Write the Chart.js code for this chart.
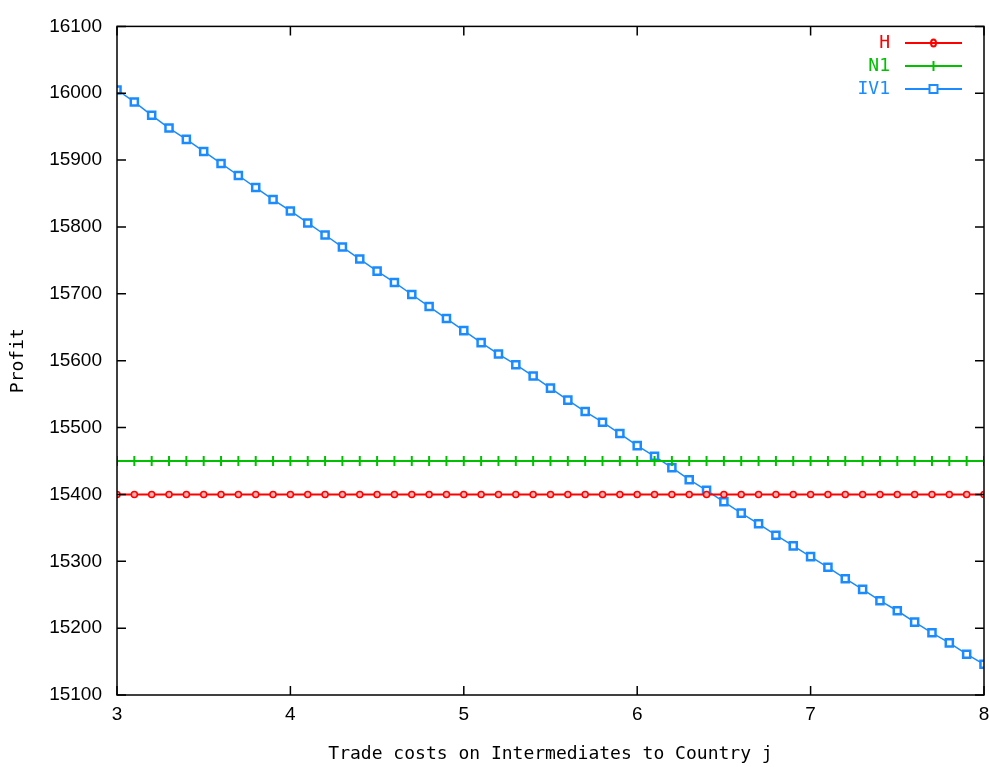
<!DOCTYPE html>
<html>
<head>
<meta charset="utf-8">
<script src="https://cdn.jsdelivr.net/npm/chart.js@4.4.1/dist/chart.umd.min.js"></script>
<style>
html,body{margin:0;padding:0;background:#fff;}
#wrap{width:989px;height:767px;position:relative;}
</style>
</head>
<body>
<div id="wrap"><canvas id="c" width="989" height="767"></canvas></div>
<script>
const tradeCosts = [3.0,3.1,3.2,3.3,3.4,3.5,3.6,3.7,3.8,3.9,4.0,4.1,4.2,4.3,4.4,4.5,4.6,4.7,4.8,4.9,5.0,5.1,5.2,5.3,5.4,5.5,5.6,5.7,5.8,5.9,6.0,6.1,6.2,6.3,6.4,6.5,6.6,6.7,6.8,6.9,7.0,7.1,7.2,7.3,7.4,7.5,7.6,7.7,7.8,7.9,8.0];
const profitH  = [15400,15400,15400,15400,15400,15400,15400,15400,15400,15400,15400,15400,15400,15400,15400,15400,15400,15400,15400,15400,15400,15400,15400,15400,15400,15400,15400,15400,15400,15400,15400,15400,15400,15400,15400,15400,15400,15400,15400,15400,15400,15400,15400,15400,15400,15400,15400,15400,15400,15400,15400];
const profitN1 = [15450,15450,15450,15450,15450,15450,15450,15450,15450,15450,15450,15450,15450,15450,15450,15450,15450,15450,15450,15450,15450,15450,15450,15450,15450,15450,15450,15450,15450,15450,15450,15450,15450,15450,15450,15450,15450,15450,15450,15450,15450,15450,15450,15450,15450,15450,15450,15450,15450,15450,15450];
const profitIV1 = [16005,15987,15967,15948,15931,15913,15895,15877,15859,15841,15824,15806,15788,15770,15752,15734,15717,15699,15681,15663,15645,15627,15610,15594,15577,15559,15541,15524,15508,15491,15473,15457,15440,15422,15406,15389,15372,15356,15339,15323,15307,15291,15274,15258,15241,15226,15209,15193,15178,15161,15146];
const xTicks = [3,4,5,6,7,8];
const yTicks = [15100,15200,15300,15400,15500,15600,15700,15800,15900,16000,16100];
const seriesNames = ['H','N1','IV1'];
const seriesColors = ['#ff0000','#00c000','#1a8cff'];

const mono = '"DejaVu Sans Mono", "Liberation Mono", monospace';
const sans = '"Liberation Sans", Arial, sans-serif';

function pts(ys){ return tradeCosts.map((x,i)=>({x:x,y:ys[i]})); }

const framePlugin = {
  id:'frame',
  afterDatasetsDraw(chart){
    const ctx = chart.ctx, a = chart.chartArea;
    const xs = chart.scales.x, ys = chart.scales.y;
    ctx.save();
    ctx.strokeStyle = '#000';
    ctx.lineWidth = 1.5;
    ctx.strokeRect(a.left, a.top, a.right-a.left, a.bottom-a.top);
    ctx.beginPath();
    const L = 9;
    yTicks.forEach(v=>{
      const y = ys.getPixelForValue(v);
      ctx.moveTo(a.left,y); ctx.lineTo(a.left+L,y);
      ctx.moveTo(a.right,y); ctx.lineTo(a.right-L,y);
    });
    xTicks.forEach(v=>{
      const x = xs.getPixelForValue(v);
      ctx.moveTo(x,a.bottom); ctx.lineTo(x,a.bottom-L);
      ctx.moveTo(x,a.top); ctx.lineTo(x,a.top+L);
    });
    ctx.stroke();
    ctx.restore();
  },
  afterDraw(chart){
    const ctx = chart.ctx;
    ctx.save();
    ctx.font = '18px ' + mono;
    ctx.textAlign = 'right';
    ctx.textBaseline = 'middle';
    chart.data.datasets.forEach((ds,i)=>{
      const y = 43 + i*23;
      const tx = 890, x0 = 905, x1 = 962, mx = (x0+x1)/2;
      ctx.fillStyle = ds.borderColor;
      ctx.fillText(ds.label, tx, y);
      ctx.strokeStyle = ds.borderColor;
      ctx.lineWidth = 2;
      ctx.beginPath(); ctx.moveTo(x0,y); ctx.lineTo(x1,y); ctx.stroke();
      if (ds.pointStyle === 'circle'){
        ctx.beginPath(); ctx.ellipse(mx,y,2.5,3.5,0,0,Math.PI*2); ctx.stroke();
      } else if (ds.pointStyle === 'line'){
        ctx.beginPath(); ctx.moveTo(mx,y-5); ctx.lineTo(mx,y+5); ctx.stroke();
      } else {
        ctx.fillStyle='#fff';
        ctx.fillRect(mx-4,y-4,8,8);
        ctx.strokeRect(mx-4,y-4,8,8);
      }
    });
    ctx.restore();
  }
};

new Chart(document.getElementById('c'), {
  type:'line',
  data:{
    datasets:[
      {label:seriesNames[0], data:pts(profitH), borderColor:seriesColors[0], backgroundColor:seriesColors[0],
       borderWidth:2, pointStyle:'circle', pointRadius:3, pointBorderWidth:1.5, pointBackgroundColor:'#ffb0b0', pointBorderColor:seriesColors[0], tension:0},
      {label:seriesNames[1], data:pts(profitN1), borderColor:seriesColors[1], backgroundColor:seriesColors[1],
       borderWidth:2, pointStyle:'line', rotation:90, pointRadius:5, pointBorderWidth:2, pointBorderColor:seriesColors[1], tension:0},
      {label:seriesNames[2], data:pts(profitIV1), borderColor:seriesColors[2], backgroundColor:seriesColors[2],
       borderWidth:1.5, pointStyle:'rect', pointRadius:5, pointBorderWidth:2.5, pointBackgroundColor:'#ffffff', pointBorderColor:seriesColors[2], tension:0}
    ]
  },
  options:{
    responsive:false,
    animation:false,
    layout:{padding:{top:22,right:0,left:0,bottom:0}},
    plugins:{legend:{display:false}, tooltip:{enabled:false}},
    scales:{
      x:{type:'linear', min:3, max:8,
         afterFit(s){ s.height = 72; s.paddingRight = 0; s.paddingLeft = 0; },
         afterBuildTicks(s){ s.ticks = xTicks.map(v=>({value:v})); },
         grid:{display:false, drawTicks:false}, border:{display:false},
         ticks:{padding:8, color:'#000', font:{family:sans, size:19}, maxRotation:0, autoSkip:false,
                callback:v=>String(v), align:'center'},
         title:{display:true, text:'Trade costs on Intermediates to Country j', color:'#000', font:{family:mono, size:18}, padding:{top:0,bottom:2}}
      },
      y:{type:'linear', min:15100, max:16100,
         afterFit(s){ s.width = 117; s.paddingRight = 0; },
         afterBuildTicks(s){ s.ticks = yTicks.map(v=>({value:v})); },
         grid:{display:false, drawTicks:false}, border:{display:false},
         ticks:{padding:15, color:'#000', font:{family:sans, size:19}, autoSkip:false, callback:v=>String(v)},
         title:{display:true, text:'Profit', color:'#000', font:{family:mono, size:18}, padding:{top:8,bottom:0}}
      }
    }
  },
  plugins:[framePlugin, {
    id:'trimRight',
    afterLayout(chart){
      const target = 984;
      if (chart.chartArea.right < target) {
        chart.chartArea.right = target;
        const xs = chart.scales.x;
        xs.right = target; xs.width = target - xs.left;
        xs.configure();
      }
    }
  }]
});
</script>
</body>
</html>
